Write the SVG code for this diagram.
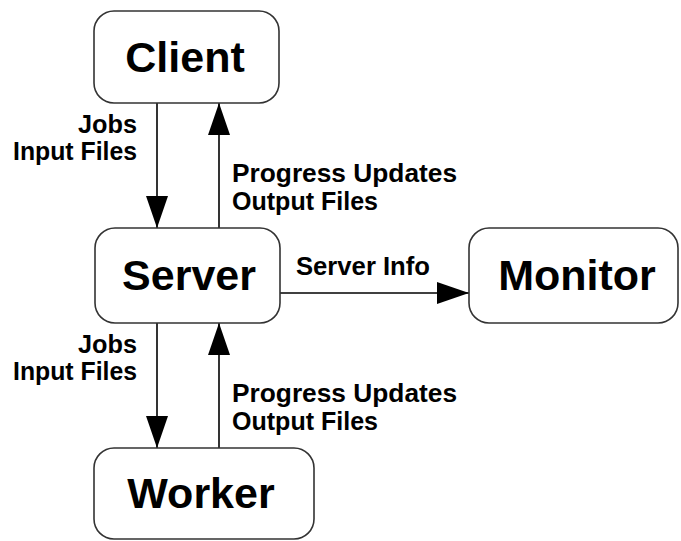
<svg xmlns="http://www.w3.org/2000/svg" width="681" height="541" viewBox="0 0 681 541">
  <style>
    .box { fill: #ffffff; stroke: #333333; stroke-width: 1.6; }
    .name { font-family: "Liberation Sans", Arial, sans-serif; font-weight: bold; font-size: 43px; fill: #000000; text-anchor: middle; }
    .lbl { font-family: "Liberation Sans", Arial, sans-serif; font-weight: bold; font-size: 25px; fill: #000000; }
    .end { text-anchor: end; }
    .wire { stroke: #000000; stroke-width: 1.6; fill: none; marker-end: url(#head); }
  </style>
  <defs>
    <marker id="head" markerUnits="userSpaceOnUse" markerWidth="32" markerHeight="22" refX="32" refY="11" orient="auto">
      <path d="M0,0 L32,11 L0,22 z" fill="#000000"/>
    </marker>
  </defs>
  <rect x="0" y="0" width="681" height="541" fill="#ffffff"/>

  <g id="connectors">
    <!-- Client <-> Server -->
    <line class="wire" x1="157" y1="103" x2="157" y2="228"/>
    <line class="wire" x1="219" y1="228" x2="219" y2="103"/>
    <!-- Server <-> Worker -->
    <line class="wire" x1="157" y1="323" x2="157" y2="448"/>
    <line class="wire" x1="219" y1="448" x2="219" y2="323"/>
    <!-- Server -> Monitor -->
    <line class="wire" x1="280" y1="293" x2="469" y2="293"/>

    <text class="lbl end" x="137" y="133" textLength="59" lengthAdjust="spacingAndGlyphs">Jobs</text>
    <text class="lbl end" x="137" y="160" textLength="124" lengthAdjust="spacingAndGlyphs">Input Files</text>
    <text class="lbl" x="232" y="182" textLength="225" lengthAdjust="spacingAndGlyphs">Progress Updates</text>
    <text class="lbl" x="232" y="210" textLength="146" lengthAdjust="spacingAndGlyphs">Output Files</text>

    <text class="lbl end" x="137" y="353" textLength="59" lengthAdjust="spacingAndGlyphs">Jobs</text>
    <text class="lbl end" x="137" y="380" textLength="124" lengthAdjust="spacingAndGlyphs">Input Files</text>
    <text class="lbl" x="232" y="402" textLength="225" lengthAdjust="spacingAndGlyphs">Progress Updates</text>
    <text class="lbl" x="232" y="430" textLength="146" lengthAdjust="spacingAndGlyphs">Output Files</text>

    <text class="lbl" x="296" y="275" textLength="134" lengthAdjust="spacingAndGlyphs">Server Info</text>
  </g>

  <g id="client">
    <rect class="box" x="94" y="11" width="185" height="92" rx="20" ry="20"/>
    <text class="name" x="185" y="72">Client</text>
  </g>
  <g id="server">
    <rect class="box" x="95" y="228" width="185" height="95" rx="20" ry="20"/>
    <text class="name" x="189" y="290">Server</text>
  </g>
  <g id="monitor">
    <rect class="box" x="469" y="228" width="209" height="95" rx="20" ry="20"/>
    <text class="name" x="577" y="290">Monitor</text>
  </g>
  <g id="worker">
    <rect class="box" x="94" y="448" width="220" height="91" rx="20" ry="20"/>
    <text class="name" x="201" y="508">Worker</text>
  </g>
</svg>
